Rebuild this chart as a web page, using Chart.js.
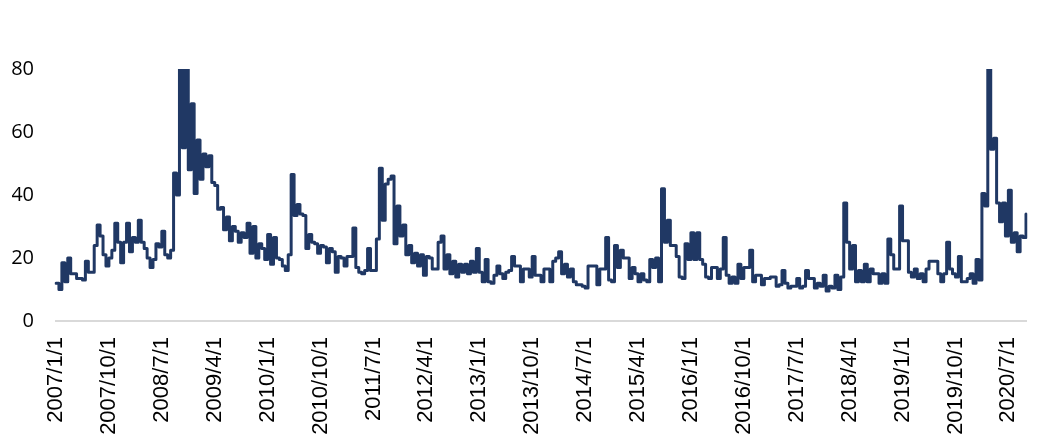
<!DOCTYPE html>
<html>
<head>
<meta charset="utf-8">
<script src="https://cdn.jsdelivr.net/npm/chart.js@4"></script>
<style>
    html, body { margin: 0; padding: 0; background: #fff; }
    #wrap { width: 1038px; height: 446px; }
</style>
</head>
<body>
<div id="wrap"><canvas id="myChart" width="1038" height="446"></canvas></div>
<script>
// half-monthly readings, 2007/1/1 .. 2020/9
const values = [
    12, 10, 18.5, 12.5, 20, 15, 15, 13.5, 13.5, 13,
    19, 15.5, 15.5, 24, 30.5, 27, 21, 17.5, 20, 22.5,
    31, 25, 18.5, 25, 31, 22, 26.5, 25, 32, 25,
    23, 20, 17, 19.5, 24.5, 23.5, 28.5, 21, 20, 22.5,
    47, 40, 80.5, 55, 80.5, 48,
    69, 40.5, 57.5, 45, 53, 49, 52.5, 44, 43, 35.5,
    36, 29, 33, 25.5, 30, 28.5, 25, 28, 26.5, 31,
    21.5, 30, 20, 24.5, 23, 19.5, 27.5, 18, 26.5, 20,
    19.5, 17.5, 16, 21, 46.5, 33.5, 37, 34, 33.5, 23,
    27.5, 25, 24.5, 21.5, 24, 23.5, 18.5,
    23, 22, 15.5, 20.5, 20, 17.5, 20.5, 20.5, 29.5, 17,
    15.5, 15, 16, 23, 16, 16, 26, 48.5, 32, 43.5,
    45, 46, 24.5, 36.5, 27, 30.5, 21, 24, 18.5, 21.5,
    17.5, 21, 14.5, 20.5, 20, 16.5, 16.5, 25, 27, 16.5,
    21, 15, 19, 14, 18, 15.5, 18, 15,
    19, 15.5, 23, 15.5, 12.5, 19.5, 12.5, 12, 14.5, 17.5,
    15, 13.5, 15.5, 16, 20.5, 17.5, 17.5, 12.5, 16.5, 16.5,
    14, 20.5, 14.5, 14.5, 12.5, 16.5, 16.5, 12.5, 19, 20,
    22, 15, 18, 14, 16.5, 12.5, 11.5, 11.5, 11, 10.5,
    17.5, 17.5, 17.5, 11.5, 16.5, 16.5, 26.5,
    13, 12.5, 24, 17, 22.5, 20, 20, 13.5, 17, 15,
    12.5, 15, 13, 12.5, 19.5, 17, 20, 12.5, 42, 25,
    32, 24, 24, 20.5, 14, 13.5, 24.5, 19.5, 28, 19.5,
    28, 19.5, 18, 14, 13.5, 17, 17, 13.5, 16.5, 26.5,
    14.5, 12, 14, 12, 18, 13.5, 17, 17,
    22.5, 12.5, 14.5, 14.5, 11.5, 13.5, 13.5, 14, 14, 11,
    11.5, 16, 12, 10.5, 11, 11, 13.5, 10.5, 11, 16,
    13.5, 13.5, 10.5, 12, 11, 14.5, 9.5, 11, 10.5, 14.5,
    10, 14, 37.5, 25, 16.5, 24, 12.5, 16, 12.5, 18,
    12.5, 16.5, 15, 15, 12, 15, 12, 26,
    21, 16.5, 16.5, 36.5, 25.5, 25.5, 15.5, 14, 16.5, 13.5,
    15, 12.5, 16.5, 19, 19, 19, 15, 12.5, 15, 25,
    16.5, 15, 14, 20.5, 12.5, 12.5, 13.5, 15, 12, 19.5,
    13, 40.5, 36.5, 80.5, 54.5, 58, 37.5, 31.5, 37.5, 27,
    41.5, 25, 28, 22, 27, 26.5, 34
];

// labels shown under the axis
const tickLabels = [
    '2007/1/1', '2007/10/1', '2008/7/1', '2009/4/1', '2010/1/1', '2010/10/1',
    '2011/7/1', '2012/4/1', '2013/1/1', '2013/10/1', '2014/7/1', '2015/4/1',
    '2016/1/1', '2016/10/1', '2017/7/1', '2018/4/1', '2019/1/1', '2019/10/1',
    '2020/7/1'
];

const yTicks = [0, 20, 40, 60, 80];

// category for every point: 1st and 16th of each month
const labels = [];
for (let y = 2007; y <= 2020; y++) {
    for (let m = 1; m <= 12; m++) {
        labels.push(y + '/' + m + '/1');
        labels.push(y + '/' + m + '/16');
    }
}
labels.length = values.length;

window.addEventListener('DOMContentLoaded', () => {

    const data = {
        labels: labels,
        datasets: [{
            data: values,
            borderColor: '#203864',
            borderWidth: 3,
            borderJoinStyle: 'round',
            borderCapStyle: 'round',
            stepped: true,
            pointRadius: 0,
            fill: false,
        }],
    };

    const config = {
        type: 'line',
        data: data,
        options: {
            responsive: false,
            animation: false,
            layout: {
                padding: { left: 12, top: 69, right: 12, bottom: 0 },
            },
            plugins: {
                legend: false,
                tooltip: false,
            },
            scales: {
                x: {
                    grid: { display: false, drawTicks: false },
                    border: { display: true, color: '#d9d9d9', width: 2 },
                    // fixed box sizes, chart.js pads rotated labels twice
                    afterFit: (scale) => {
                        scale.paddingLeft = 0;
                        scale.paddingRight = 0;
                        scale.height = 125;
                    },
                    ticks: {
                        autoSkip: false,
                        maxRotation: 90,
                        minRotation: 90,
                        padding: 16,
                        color: '#000',
                        font: { family: "'Liberation Sans', Arial, sans-serif", size: 22 },
                        callback: (v, i) => tickLabels.includes(labels[i]) ? labels[i] : null,
                    },
                },
                y: {
                    min: yTicks[0],
                    max: yTicks[yTicks.length - 1],
                    grid: { display: false, drawTicks: false },
                    border: { display: false },
                    afterBuildTicks: (axis) => {
                        axis.ticks = yTicks.map(v => ({ value: v }));
                    },
                    afterFit: (scale) => {
                        scale.width = 44;
                    },
                    ticks: {
                        padding: 22,
                        color: '#000',
                        font: { family: "'Open Sans', sans-serif", size: 20 },
                    },
                },
            },
        },
    };

    new Chart(document.getElementById('myChart'), config);
});
</script>
</body>
</html>
